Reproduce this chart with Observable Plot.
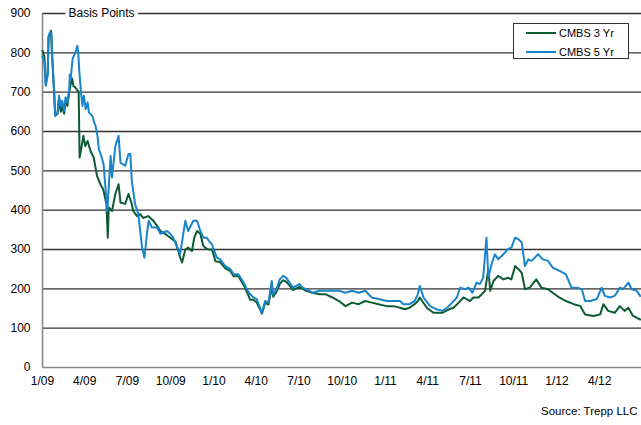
<!DOCTYPE html>
<html><head><meta charset="utf-8">
<script src="https://cdn.jsdelivr.net/npm/d3@7"></script>
<script src="https://cdn.jsdelivr.net/npm/@observablehq/plot@0.6"></script>
<style>
body{margin:0;background:#fff;font-family:"Liberation Sans",Arial,sans-serif;}
#wrap{position:relative;width:641px;height:425px;overflow:hidden;}
#legend{position:absolute;left:513px;top:23px;width:116px;height:36px;border:1px solid #333;background:#fff;font-size:11px;box-sizing:border-box;}
#legend .row{position:absolute;left:0;height:14px;line-height:14px;}
#legend .sw{position:absolute;left:12px;top:6px;width:30px;height:2px;}
#legend .lb{position:absolute;left:45px;top:0;white-space:nowrap;color:#000;}
</style>
</head><body>
<div id="wrap"></div>
<script>
const seriesNames = ["CMBS 3 Yr", "CMBS 5 Yr"];
const colors = ["#0d5c33", "#1a84cb"];
const yTicks = [0,100,200,300,400,500,600,700,800,900];
const xTickDates = ["2009-01-01","2009-04-01","2009-07-01","2009-10-01","2010-01-01","2010-04-01","2010-07-01","2010-10-01","2011-01-01","2011-04-01","2011-07-01","2011-10-01","2012-01-01","2012-04-01"];
const xDomain = ["2009-01-01","2012-06-29"];

const dates3 = ["2009-01-01","2009-01-05","2009-01-08","2009-01-12","2009-01-14","2009-01-19","2009-01-22","2009-01-26","2009-01-28","2009-02-02","2009-02-05","2009-02-09","2009-02-12","2009-02-16","2009-02-19","2009-02-23","2009-02-27","2009-03-02","2009-03-05","2009-03-08","2009-03-12","2009-03-16","2009-03-19","2009-03-21","2009-03-25","2009-03-29","2009-04-02","2009-04-07","2009-04-13","2009-04-20","2009-04-27","2009-05-04","2009-05-10","2009-05-17","2009-05-20","2009-05-22","2009-05-29","2009-06-05","2009-06-12","2009-06-16","2009-06-26","2009-07-03","2009-07-10","2009-07-13","2009-07-21","2009-07-28","2009-08-03","2009-08-14","2009-08-25","2009-09-02","2009-09-09","2009-09-19","2009-09-30","2009-10-11","2009-10-21","2009-10-25","2009-11-01","2009-11-07","2009-11-15","2009-11-20","2009-11-26","2009-12-03","2009-12-09","2009-12-13","2009-12-20","2009-12-28","2010-01-04","2010-01-14","2010-01-25","2010-02-05","2010-02-12","2010-02-22","2010-03-05","2010-03-12","2010-03-19","2010-03-26","2010-04-02","2010-04-09","2010-04-13","2010-04-20","2010-04-27","2010-05-04","2010-05-07","2010-05-14","2010-05-21","2010-05-28","2010-06-04","2010-06-11","2010-06-18","2010-07-02","2010-07-16","2010-07-30","2010-08-13","2010-08-27","2010-09-10","2010-09-24","2010-10-08","2010-10-22","2010-11-05","2010-11-19","2010-12-03","2010-12-17","2011-01-04","2011-01-18","2011-02-01","2011-02-11","2011-02-21","2011-03-04","2011-03-11","2011-03-15","2011-03-30","2011-04-13","2011-05-02","2011-05-16","2011-05-26","2011-06-06","2011-06-16","2011-06-30","2011-07-07","2011-07-18","2011-07-25","2011-08-01","2011-08-08","2011-08-12","2011-08-19","2011-08-29","2011-09-09","2011-09-19","2011-09-26","2011-10-04","2011-10-11","2011-10-18","2011-10-25","2011-11-04","2011-11-18","2011-11-29","2011-12-13","2011-12-23","2012-01-06","2012-01-20","2012-02-06","2012-02-20","2012-03-01","2012-03-19","2012-04-02","2012-04-09","2012-04-19","2012-05-03","2012-05-14","2012-05-24","2012-06-01","2012-06-11","2012-06-26"];
const cmbs3 = [805,790,720,745,840,856,780,690,640,645,680,650,665,645,675,665,700,720,735,715,712,705,700,534,560,589,563,576,551,534,487,466,454,416,330,407,398,441,466,419,416,441,416,398,385,390,380,385,373,360,347,340,330,320,280,267,300,305,296,330,347,340,310,305,300,300,270,268,252,245,232,232,210,192,172,172,165,148,137,165,160,205,180,192,212,222,218,208,197,205,195,190,186,186,178,169,156,165,161,169,165,161,156,156,152,148,152,161,169,178,152,139,139,148,152,165,178,169,178,178,186,195,250,195,220,233,224,228,224,258,250,241,199,203,224,203,199,190,178,169,161,156,135,131,135,161,144,139,156,144,152,131,122];

const dates5 = ["2009-01-01","2009-01-05","2009-01-08","2009-01-12","2009-01-14","2009-01-17","2009-01-20","2009-01-22","2009-01-26","2009-01-28","2009-02-02","2009-02-05","2009-02-09","2009-02-12","2009-02-16","2009-02-19","2009-02-23","2009-02-27","2009-02-28","2009-03-02","2009-03-06","2009-03-09","2009-03-12","2009-03-16","2009-03-18","2009-03-20","2009-03-24","2009-03-27","2009-03-30","2009-04-03","2009-04-07","2009-04-10","2009-04-17","2009-04-21","2009-04-24","2009-04-28","2009-05-01","2009-05-05","2009-05-11","2009-05-15","2009-05-19","2009-05-26","2009-05-29","2009-06-05","2009-06-12","2009-06-16","2009-06-26","2009-07-03","2009-07-07","2009-07-10","2009-07-17","2009-07-24","2009-08-01","2009-08-06","2009-08-12","2009-08-15","2009-08-22","2009-09-02","2009-09-09","2009-09-23","2009-09-30","2009-10-06","2009-10-21","2009-11-01","2009-11-07","2009-11-18","2009-11-26","2009-12-03","2009-12-10","2009-12-17","2009-12-21","2009-12-28","2009-12-30","2010-01-07","2010-01-14","2010-01-25","2010-02-05","2010-02-12","2010-02-22","2010-03-05","2010-03-12","2010-03-19","2010-03-26","2010-04-02","2010-04-09","2010-04-13","2010-04-20","2010-04-27","2010-05-04","2010-05-07","2010-05-14","2010-05-21","2010-05-28","2010-06-04","2010-06-11","2010-06-18","2010-07-02","2010-07-09","2010-07-23","2010-07-30","2010-08-13","2010-09-10","2010-09-24","2010-10-08","2010-10-22","2010-11-05","2010-11-19","2010-12-03","2010-12-17","2011-01-04","2011-01-18","2011-02-01","2011-02-08","2011-02-21","2011-03-04","2011-03-11","2011-03-15","2011-03-23","2011-04-06","2011-04-20","2011-05-02","2011-05-12","2011-05-23","2011-06-02","2011-06-09","2011-06-20","2011-06-27","2011-07-05","2011-07-14","2011-07-21","2011-07-28","2011-08-04","2011-08-08","2011-08-15","2011-08-22","2011-08-29","2011-09-09","2011-09-19","2011-09-26","2011-10-04","2011-10-11","2011-10-18","2011-10-25","2011-11-01","2011-11-08","2011-11-22","2011-12-02","2011-12-13","2011-12-23","2012-01-06","2012-01-20","2012-02-01","2012-02-13","2012-02-23","2012-03-01","2012-03-12","2012-03-26","2012-04-05","2012-04-12","2012-04-23","2012-05-03","2012-05-14","2012-05-21","2012-06-01","2012-06-08","2012-06-19","2012-06-26"];
const cmbs5 = [790,776,716,745,843,852,852,784,699,640,648,691,665,678,653,687,674,708,745,733,784,793,801,818,805,759,699,665,691,657,674,648,640,623,614,589,555,542,517,457,398,538,483,563,589,521,513,543,543,475,416,390,305,279,347,373,356,356,340,347,340,330,289,373,347,373,373,347,330,330,322,313,305,280,275,258,250,237,237,216,199,186,178,174,152,139,169,165,220,186,199,224,233,228,216,203,212,203,195,190,195,195,195,190,195,190,195,178,174,169,169,169,161,161,169,186,207,178,156,148,144,152,165,178,203,199,203,190,216,212,228,330,228,263,288,275,288,301,305,330,326,318,258,275,271,288,275,271,254,246,237,203,203,199,169,169,174,203,182,178,182,203,199,216,199,195,182];

const data3 = dates3.map((d, i) => ({date: new Date(d), value: cmbs3[i]}));
const data5 = dates5.map((d, i) => ({date: new Date(d), value: cmbs5[i]}));
const fmt = d => `${d.getUTCMonth() + 1}/${String(d.getUTCFullYear()).slice(2)}`;

const chart = Plot.plot({
  width: 641, height: 425,
  marginLeft: 42, marginRight: 0, marginTop: 13, marginBottom: 58,
  style: {fontFamily: "'Liberation Sans', Arial, sans-serif", fontSize: "12px", color: "#000", background: "#fff", overflow: "visible"},
  x: {type: "utc", domain: xDomain.map(d => new Date(d)), ticks: xTickDates.map(d => new Date(d)), tickFormat: fmt, tickSize: 0, tickPadding: 9, label: null},
  y: {domain: [0, 900], ticks: yTicks, tickSize: 0, tickPadding: 12, label: null},
  marks: [
    Plot.ruleY(yTicks.filter(d => d > 0), {stroke: "#333", strokeWidth: 1.3}),
    Plot.ruleY([0], {stroke: "#888", strokeWidth: 1.6}),
    Plot.ruleX([new Date(xDomain[0])], {stroke: "#888", strokeWidth: 1.6}),
    Plot.line(data3, {x: "date", y: "value", stroke: colors[0], strokeWidth: 2}),
    Plot.line(data5, {x: "date", y: "value", stroke: colors[1], strokeWidth: 2}),
    Plot.text(["Basis Points"], {frameAnchor: "top-left", dx: 26, textAnchor: "start", lineAnchor: "middle", fill: "#000", stroke: "#fff", strokeWidth: 8, fontSize: 12}),
    Plot.text(["Source: Trepp LLC"], {frameAnchor: "bottom-right", dx: -4, dy: 44, textAnchor: "end", lineAnchor: "middle", fill: "#000", fontSize: 11.5})
  ]
});
const wrap = document.getElementById("wrap");
wrap.appendChild(chart);
const legend = document.createElement("div");
legend.id = "legend";
seriesNames.forEach((name, i) => {
  const row = document.createElement("div");
  row.className = "row";
  row.style.top = (i === 0 ? 2 : 21) + "px";
  row.style.width = "100%";
  const sw = document.createElement("div");
  sw.className = "sw";
  sw.style.background = colors[i];
  const lb = document.createElement("div");
  lb.className = "lb";
  lb.textContent = name;
  row.appendChild(sw); row.appendChild(lb);
  legend.appendChild(row);
});
wrap.appendChild(legend);
</script>
</body></html>
